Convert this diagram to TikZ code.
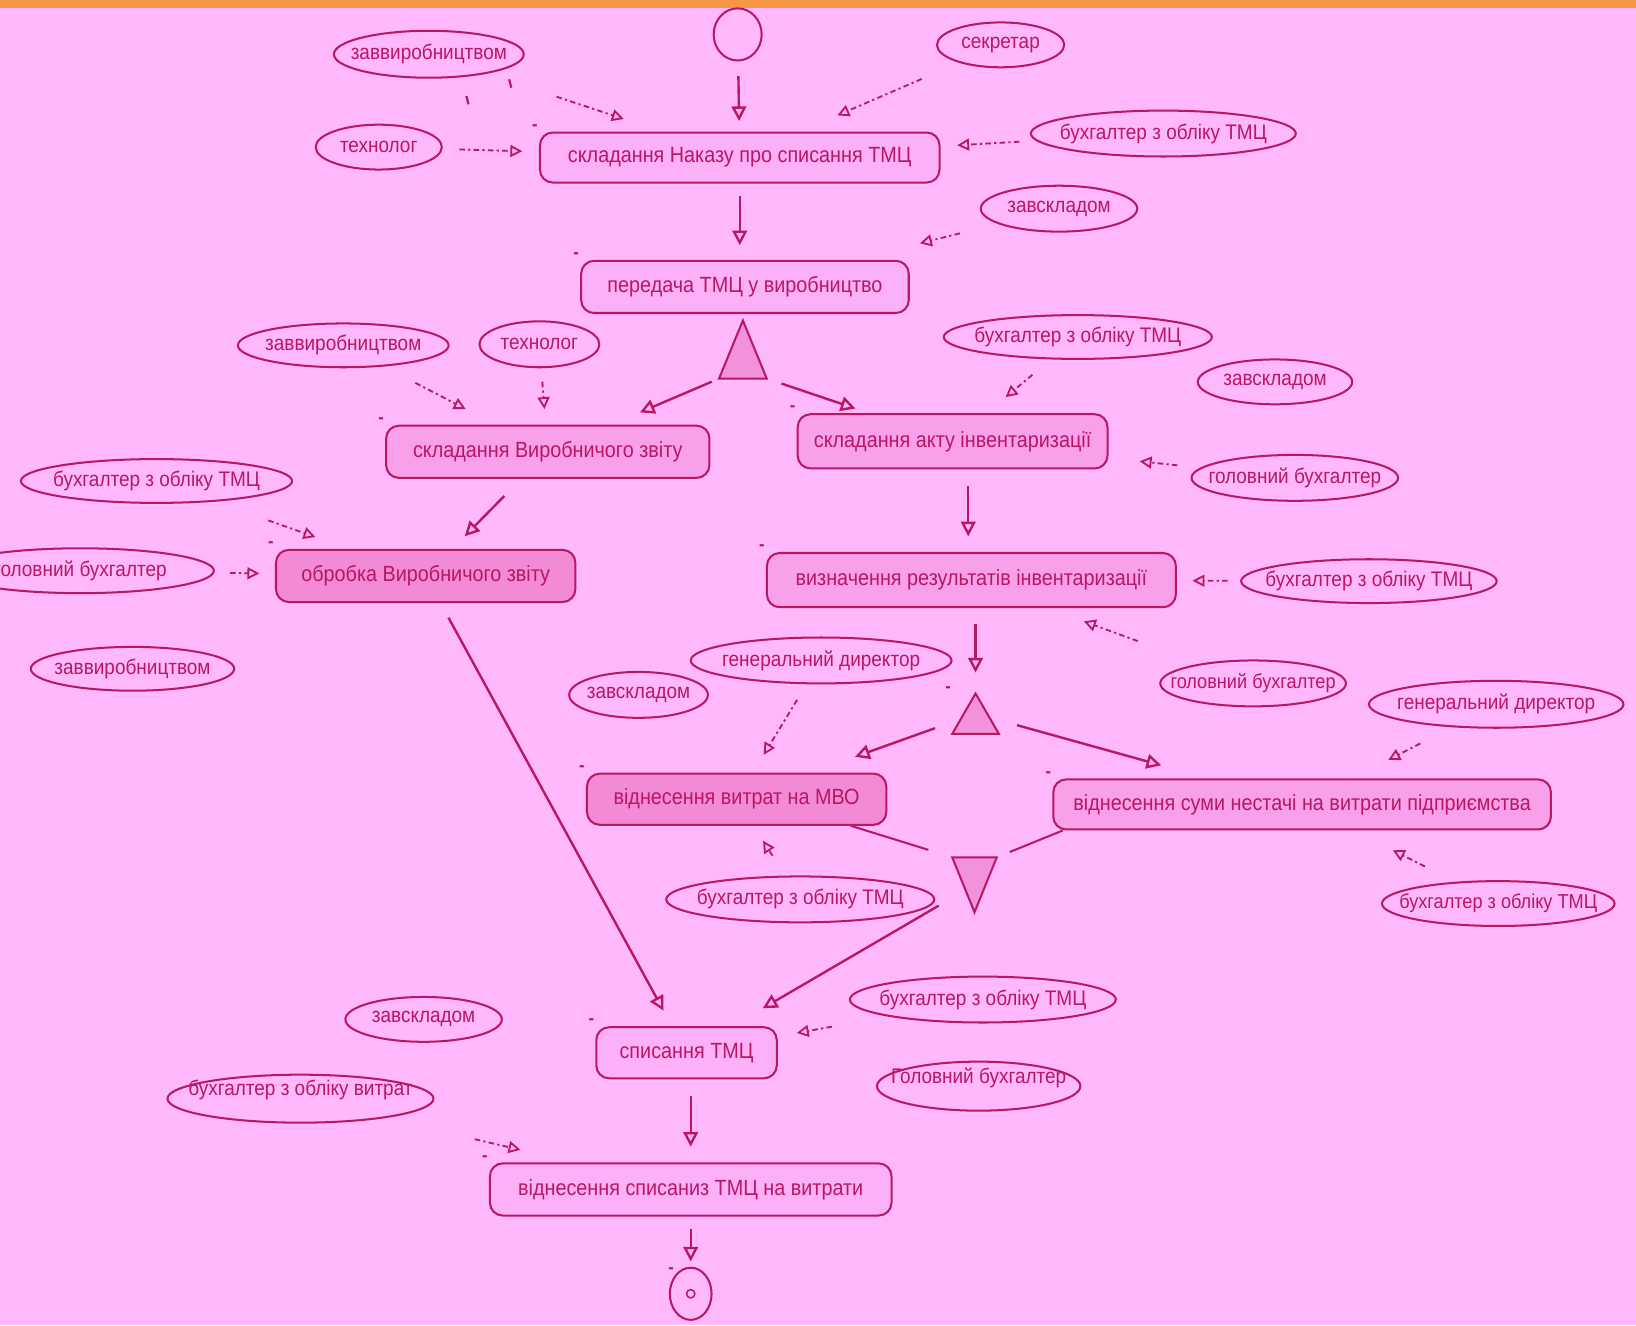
\documentclass[tikz,border=0pt]{standalone}
\usepackage{fontspec}
\setmainfont{Liberation Sans}[FakeStretch=0.9]
\usetikzlibrary{shapes.geometric, arrows.meta}
\definecolor{bgpink}{RGB}{255,184,252}
\definecolor{barorange}{RGB}{247,150,70}
\definecolor{ink}{RGB}{185,22,100}
\definecolor{acthot}{RGB}{242,138,214}
\definecolor{actmid}{RGB}{248,160,234}
\definecolor{actlight}{RGB}{252,176,247}
\definecolor{gatefill}{RGB}{242,146,220}
\newcommand{\rtxt}[1]{\makebox[0pt]{#1}} % text that does not widen the ellipse
\tikzset{
every node/.style={text=ink, font=\fontsize{12}{14}\selectfont}, % colour and size of all texts
flow/.style={draw=ink, line width=1.3pt, -{Triangle[open, length=8pt, width=8pt]}}, % control flow
res/.style={draw=ink, line width=1.0pt, dash pattern=on 3pt off 1.8pt on 1.2pt off 1.8pt, -{Triangle[open, length=6.5pt, width=6.5pt]}}, % performer links
merge/.style={draw=ink, line width=1.1pt}, % lines into the join
}

\begin{document}
\begin{tikzpicture}[x=0.02cm, y=-0.02cm,
  act/.style={draw=ink, line width=1.1pt, rounded corners=7pt, inner sep=0pt, label={[tickmk]north west:-}},
  role/.style={draw=ink, ellipse, line width=1.1pt, inner sep=0pt, font=\fontsize{11.5}{13}\selectfont},
  small/.style={font=\fontsize{11}{13}\selectfont},
  gatebox/.style={inner sep=0pt},
  tickmk/.style={font=\bfseries, inner sep=0.5pt}]
    \useasboundingbox (0,0) rectangle (1568,1270);
    \fill[bgpink] (0,0) rectangle (1568,1270);
    \fill[barorange] (0,0) rectangle (1568,8);

    % activities
    \node[act, fill=actlight, minimum width=7.66cm, minimum height=0.96cm] (a1) at (709,151) {складання Наказу про списання ТМЦ};
    \node[act, fill=actlight, minimum width=6.28cm, minimum height=1.0cm] (a2) at (714,275) {передача ТМЦ у виробництво};
    \node[act, fill=actmid, minimum width=6.2cm, minimum height=1.0cm] (a3) at (525,433) {складання Виробничого звіту};
    \node[act, fill=actmid, minimum width=5.94cm, minimum height=1.04cm] (a4) at (913,423) {складання акту інвентаризації};
    \node[act, fill=actmid, minimum width=7.84cm, minimum height=1.04cm] (a5) at (931,556) {визначення результатів інвентаризації};
    \node[act, fill=acthot, minimum width=5.74cm, minimum height=1.0cm] (a6) at (408,552) {обробка Виробничого звіту};
    \node[act, fill=acthot, minimum width=5.74cm, minimum height=0.98cm] (a7) at (706,766) {віднесення витрат на МВО};
    \node[act, fill=actmid, minimum width=9.54cm, minimum height=0.96cm] (a8) at (1248,771) {віднесення суми нестачі на витрати підприємства};
    \node[act, fill=actlight, minimum width=3.46cm, minimum height=0.98cm] (a9) at (658,1009) {списання ТМЦ};
    \node[act, fill=actlight, minimum width=7.7cm, minimum height=1.0cm] (a10) at (662,1140) {віднесення списаниз ТМЦ на витрати};

    % start, end and gates
    \node[draw=ink, ellipse, line width=1.1pt, minimum width=0.92cm, minimum height=1.0cm] (s) at (707,33) {};
    \node[draw=ink, ellipse, line width=1.1pt, minimum width=0.8cm, minimum height=1.0cm, label={[tickmk]north west:-}] (e) at (662,1240) {};
    \node[draw=ink, circle, line width=0.8pt, minimum size=0.16cm, inner sep=0pt] (e0) at (e) {};
    \node[gatebox, minimum width=0.9cm, minimum height=1.1cm] (f1) at (712,335) {};
    \node[gatebox, minimum width=0.88cm, minimum height=0.76cm, label={[tickmk]north west:-}] (f2) at (935,684) {};
    \node[gatebox, minimum width=0.84cm, minimum height=1.04cm] (j) at (934,848) {};
    \draw[ink, fill=gatefill, line width=1.1pt] (f1.south west) -- (f1.north) -- (f1.south east) -- cycle;
    \draw[ink, fill=gatefill, line width=1.1pt] (f2.south west) -- (f2.north) -- (f2.south east) -- cycle;
    \draw[ink, fill=gatefill, line width=1.1pt] (j.north west) -- (j.south) -- (j.north east) -- cycle;

    % performers
    \node[role, minimum width=3.64cm, minimum height=0.9cm] (r1) at (411,52) {\rtxt{заввиробництвом}};
    \node[role, minimum width=2.42cm, minimum height=0.86cm] (r2) at (363,141) {\rtxt{технолог}};
    \node[role, minimum width=2.44cm, minimum height=0.86cm] (r3) at (959,43) {\rtxt{секретар}};
    \node[role, minimum width=5.08cm, minimum height=0.88cm] (r4) at (1115,128) {\rtxt{бухгалтер з обліку ТМЦ}};
    \node[role, minimum width=3.0cm, minimum height=0.88cm] (r5) at (1015,200) {\rtxt{завскладом}};
    \node[role, minimum width=4.04cm, minimum height=0.84cm] (r6) at (329,331) {\rtxt{заввиробництвом}};
    \node[role, minimum width=2.3cm, minimum height=0.88cm] (r7) at (517,330) {\rtxt{технолог}};
    \node[role, minimum width=5.14cm, minimum height=0.84cm] (r8) at (1033,323) {\rtxt{бухгалтер з обліку ТМЦ}};
    \node[role, minimum width=2.96cm, minimum height=0.86cm] (r9) at (1222,366) {\rtxt{завскладом}};
    \node[role, minimum width=3.96cm, minimum height=0.88cm] (r10) at (1241,458) {\rtxt{головний бухгалтер}};
    \node[role, minimum width=5.2cm, minimum height=0.84cm] (r11) at (150,461) {\rtxt{бухгалтер з обліку ТМЦ}};
    \node[role, minimum width=5.12cm, minimum height=0.86cm] (r12) at (77,547) {\rtxt{головний бухгалтер}};
    \node[role, minimum width=3.9cm, minimum height=0.84cm] (r13) at (127,641) {\rtxt{заввиробництвом}};
    \node[role, minimum width=4.9cm, minimum height=0.84cm] (r14) at (1312,557) {\rtxt{бухгалтер з обліку ТМЦ}};
    \node[role, small, minimum width=3.56cm, minimum height=0.88cm] (r15) at (1201,655) {\rtxt{головний бухгалтер}};
    \node[role, minimum width=5.0cm, minimum height=0.88cm] (r16) at (787,633) {\rtxt{генеральний директор}};
    \node[role, minimum width=2.66cm, minimum height=0.88cm] (r17) at (612,666) {\rtxt{завскладом}};
    \node[role, minimum width=4.88cm, minimum height=0.9cm] (r18) at (1434,675) {\rtxt{генеральний директор}};
    \node[role, minimum width=5.14cm, minimum height=0.88cm] (r19) at (767,862) {\rtxt{бухгалтер з обліку ТМЦ}};
    \node[role, small, minimum width=4.46cm, minimum height=0.86cm] (r20) at (1436,866) {\rtxt{бухгалтер з обліку ТМЦ}};
    \node[role, minimum width=5.1cm, minimum height=0.88cm] (r21) at (942,958) {\rtxt{бухгалтер з обліку ТМЦ}};
    \node[role, minimum width=3.0cm, minimum height=0.86cm] (r22) at (406,977) {\rtxt{завскладом}};
    \node[role, minimum width=5.1cm, minimum height=0.92cm] (r23) at (288,1053) {\raisebox{0.06cm}[0pt][0pt]{\rtxt{бухгалтер з обліку витрат}}};
    \node[role, minimum width=3.9cm, minimum height=0.94cm] (r24) at (938,1041) {\raisebox{0.06cm}[0pt][0pt]{\rtxt{Головний бухгалтер}}};
    \draw[ink, line width=1.2pt] (447,92) -- (449,100);
    \draw[ink, line width=1.2pt] (488,76) -- (490,84);

    % control flow
    \draw[flow, shorten <=0.28cm, shorten >=0.2cm] (s) -- (a1);
    \draw[flow, shorten <=0.24cm, shorten >=0.28cm] (a1.south) -- (a1.south |- a2.north);
    \draw[flow, shorten <=0.15cm, shorten >=0.6cm] (f1.south west) -- (a3);
    \draw[flow, shorten <=0.3cm, shorten >=0.28cm] (f1.south east) -- (a4);
    \draw[flow, shorten <=0.46cm, shorten >=0.34cm] (a3) -- (a6);
    \draw[flow, shorten <=0.32cm, shorten >=0.3cm] ([xshift=-0.06cm]a4.south -| a5.north) -- ([xshift=-0.06cm]a5.north);
    \draw[flow, shorten <=0.32cm, shorten >=0.34cm] (a6) -- (a9);
    \draw[flow, shorten <=0.3cm, shorten >=0.4cm] (a5.south -| f2.north) -- (f2.north);
    \draw[flow, shorten <=0.35cm, shorten >=0.9cm] (f2) -- (a7);
    \draw[flow, shorten <=0.36cm, shorten >=0.94cm] (f2) -- (a8);
    \draw[merge, shorten >=0.48cm] ([xshift=-0.7cm]a7.south east) -- (j.north west);
    \draw[merge, shorten >=0.27cm] ([xshift=0.2cm]a8.south west) -- (j.north east);
    \draw[flow, shorten <=0.3cm, shorten >=0.68cm] (j) -- (a9);
    \draw[flow, shorten <=0.32cm, shorten >=0.3cm] (a9.south -| a10.north) -- (a10.north);
    \draw[flow, shorten <=0.24cm, shorten >=0.1cm] (a10) -- (e);

    % performers to activities
    \draw[res, shorten <=1.4cm, shorten >=0.76cm] (r1) -- (a1);
    \draw[res, shorten <=0.32cm, shorten >=0.32cm] (r2) -- (a1);
    \draw[res, shorten <=0.78cm, shorten >=0.78cm] (r3) -- (a1);
    \draw[res, shorten <=0.32cm, shorten >=0.32cm] (r4) -- (a1);
    \draw[res, shorten <=0.75cm, shorten >=1.31cm] (r5) -- (a2);
    \draw[res, shorten <=0.68cm, shorten >=0.65cm] (r6) -- (a3);
    \draw[res, shorten <=0.26cm, shorten >=0.3cm] (r7) -- (a3);
    \draw[res, shorten <=0.46cm, shorten >=0.48cm] (r8) -- (a4);
    \draw[res, shorten <=0.44cm, shorten >=0.6cm] (r10) -- (a4);
    \draw[res, shorten <=1.08cm, shorten >=0.68cm] (r11) -- (a6);
    \draw[res, shorten <=0.3cm, shorten >=0.3cm] (r12) -- (a6);
    \draw[res, shorten <=0.24cm, shorten >=0.3cm] (r14) -- (a5);
    \draw[res, shorten <=1.26cm, shorten >=0.73cm] (r15) -- (a5);
    \draw[res, shorten <=0.35cm, shorten >=0.4cm] (r16) -- (a7);
    \draw[res, shorten <=0.68cm, shorten >=0.77cm] (r18) -- (a8);
    \draw[res, shorten <=0.45cm, shorten >=0.34cm] (r19) -- (a7);
    \draw[res, shorten <=0.65cm, shorten >=0.84cm] (r20) -- (a8);
    \draw[res, shorten <=1.1cm, shorten >=0.37cm] (r21) -- (a9);
    \draw[res, shorten <=1.78cm, shorten >=1.06cm] (r23) -- (a10);
\end{tikzpicture}
\end{document}
